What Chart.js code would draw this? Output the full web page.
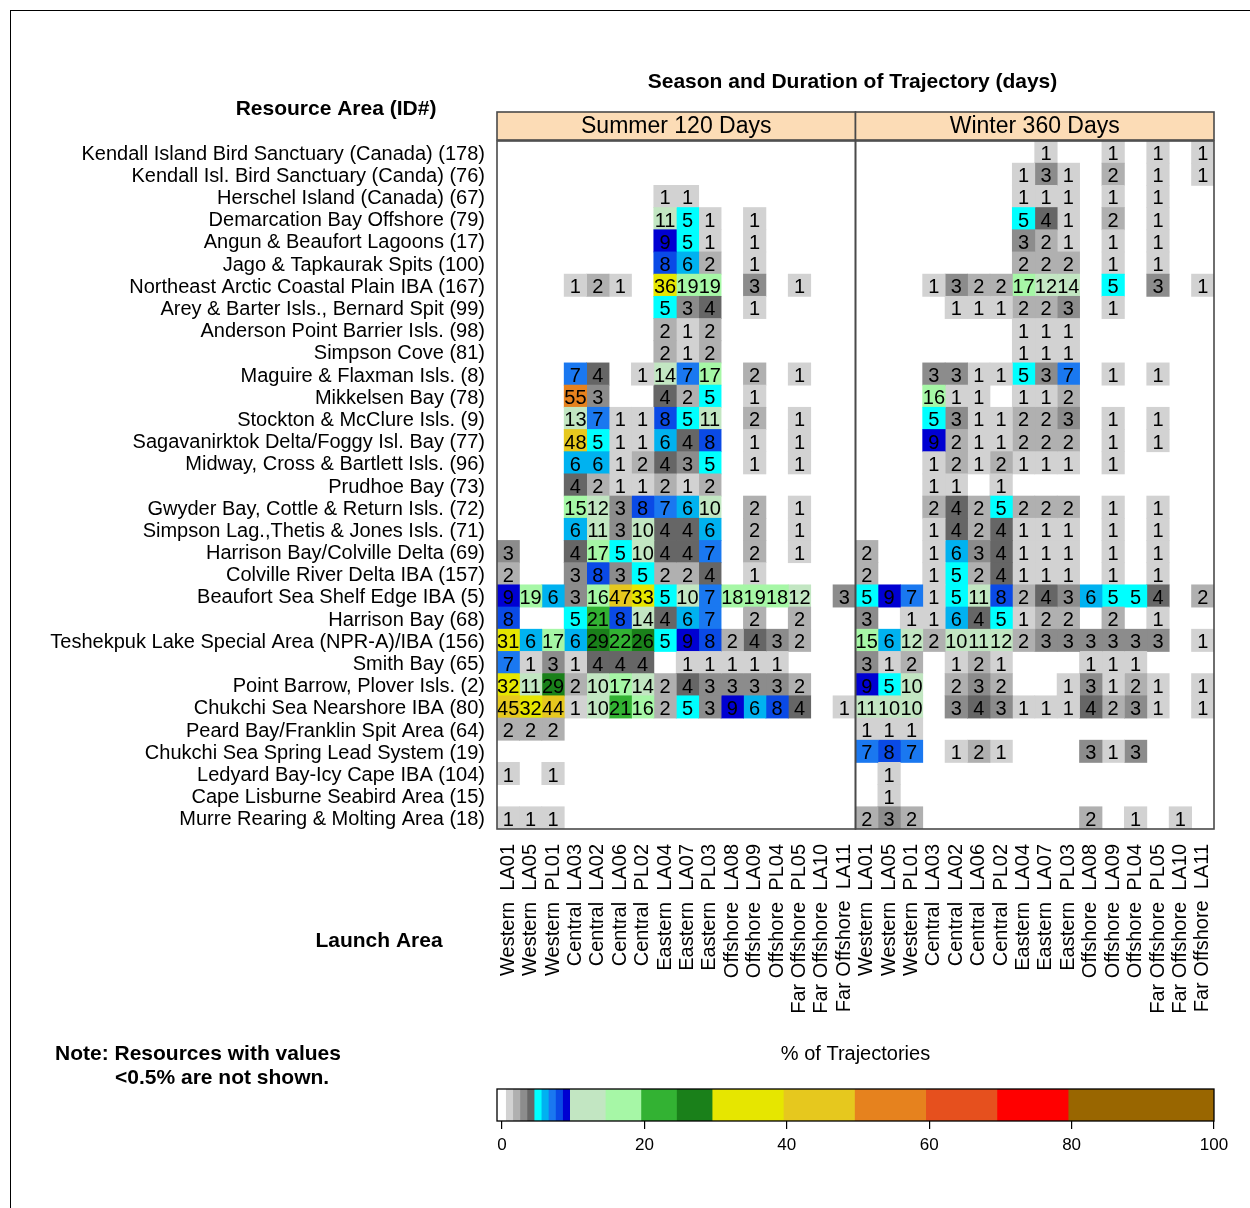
<!DOCTYPE html>
<html>
<head>
<meta charset="utf-8">
<script src="https://cdn.jsdelivr.net/npm/chart.js@4.4.1/dist/chart.umd.min.js"></script>
<style>
  html, body { margin: 0; padding: 0; background: #fff; width: 1250px; height: 1208px; overflow: hidden; }
  #frame { position: absolute; left: 10px; top: 10px; width: 1400px; height: 1400px;
           border-top: 1.5px solid #000; border-left: 1.5px solid #000; }
  #main { position: absolute; left: 0; top: 0; }
  #key  { position: absolute; left: 0; top: 1030px; }
</style>
</head>
<body>
<div id="frame"></div>
<canvas id="main" width="1250" height="1030"></canvas>
<canvas id="key" width="1250" height="178"></canvas>
<script>
const FONT = '"Liberation Sans", Arial, Helvetica, sans-serif';

// Resource areas (rows, top to bottom)
const resourceAreas = [
  'Kendall Island Bird Sanctuary (Canada) (178)',
  'Kendall Isl. Bird Sanctuary (Canda) (76)',
  'Herschel Island (Canada) (67)',
  'Demarcation Bay Offshore (79)',
  'Angun & Beaufort Lagoons (17)',
  'Jago & Tapkaurak Spits (100)',
  'Northeast Arctic Coastal Plain IBA (167)',
  'Arey & Barter Isls., Bernard Spit (99)',
  'Anderson Point Barrier Isls. (98)',
  'Simpson Cove (81)',
  'Maguire & Flaxman Isls. (8)',
  'Mikkelsen Bay (78)',
  'Stockton & McClure Isls. (9)',
  'Sagavanirktok Delta/Foggy Isl. Bay (77)',
  'Midway, Cross & Bartlett Isls. (96)',
  'Prudhoe Bay (73)',
  'Gwyder Bay, Cottle & Return Isls. (72)',
  'Simpson Lag.,Thetis & Jones Isls. (71)',
  'Harrison Bay/Colville Delta (69)',
  'Colville River Delta IBA (157)',
  'Beaufort Sea Shelf Edge IBA (5)',
  'Harrison Bay (68)',
  'Teshekpuk Lake Special Area (NPR-A)/IBA (156)',
  'Smith Bay (65)',
  'Point Barrow, Plover Isls. (2)',
  'Chukchi Sea Nearshore IBA (80)',
  'Peard Bay/Franklin Spit Area (64)',
  'Chukchi Sea Spring Lead System (19)',
  'Ledyard Bay-Icy Cape IBA (104)',
  'Cape Lisburne Seabird Area (15)',
  'Murre Rearing & Molting Area (18)'
];

// Launch areas (columns, within each season panel)
const launchRegions = ['Western', 'Western', 'Western', 'Central', 'Central', 'Central', 'Central',
  'Eastern', 'Eastern', 'Eastern', 'Offshore', 'Offshore', 'Offshore',
  'Far Offshore', 'Far Offshore', 'Far Offshore'];
const launchCodes = ['LA01', 'LA05', 'PL01', 'LA03', 'LA02', 'LA06', 'PL02', 'LA04', 'LA07', 'PL03',
  'LA08', 'LA09', 'PL04', 'PL05', 'LA10', 'LA11'];

const seasons = ['Summer 120 Days', 'Winter 360 Days'];

// % of trajectories contacting each resource area (0 = below 0.5%, not shown)
const summerPct = [
  [0,0,0,0,0,0,0,0,0,0,0,0,0,0,0,0],
  [0,0,0,0,0,0,0,0,0,0,0,0,0,0,0,0],
  [0,0,0,0,0,0,0,1,1,0,0,0,0,0,0,0],
  [0,0,0,0,0,0,0,11,5,1,0,1,0,0,0,0],
  [0,0,0,0,0,0,0,9,5,1,0,1,0,0,0,0],
  [0,0,0,0,0,0,0,8,6,2,0,1,0,0,0,0],
  [0,0,0,1,2,1,0,36,19,19,0,3,0,1,0,0],
  [0,0,0,0,0,0,0,5,3,4,0,1,0,0,0,0],
  [0,0,0,0,0,0,0,2,1,2,0,0,0,0,0,0],
  [0,0,0,0,0,0,0,2,1,2,0,0,0,0,0,0],
  [0,0,0,7,4,0,1,14,7,17,0,2,0,1,0,0],
  [0,0,0,55,3,0,0,4,2,5,0,1,0,0,0,0],
  [0,0,0,13,7,1,1,8,5,11,0,2,0,1,0,0],
  [0,0,0,48,5,1,1,6,4,8,0,1,0,1,0,0],
  [0,0,0,6,6,1,2,4,3,5,0,1,0,1,0,0],
  [0,0,0,4,2,1,1,2,1,2,0,0,0,0,0,0],
  [0,0,0,15,12,3,8,7,6,10,0,2,0,1,0,0],
  [0,0,0,6,11,3,10,4,4,6,0,2,0,1,0,0],
  [3,0,0,4,17,5,10,4,4,7,0,2,0,1,0,0],
  [2,0,0,3,8,3,5,2,2,4,0,1,0,0,0,0],
  [9,19,6,3,16,47,33,5,10,7,18,19,18,12,0,3],
  [8,0,0,5,21,8,14,4,6,7,0,2,0,2,0,0],
  [31,6,17,6,29,22,26,5,9,8,2,4,3,2,0,0],
  [7,1,3,1,4,4,4,0,1,1,1,1,1,0,0,0],
  [32,11,29,2,10,17,14,2,4,3,3,3,3,2,0,0],
  [45,32,44,1,10,21,16,2,5,3,9,6,8,4,0,1],
  [2,2,2,0,0,0,0,0,0,0,0,0,0,0,0,0],
  [0,0,0,0,0,0,0,0,0,0,0,0,0,0,0,0],
  [1,0,1,0,0,0,0,0,0,0,0,0,0,0,0,0],
  [0,0,0,0,0,0,0,0,0,0,0,0,0,0,0,0],
  [1,1,1,0,0,0,0,0,0,0,0,0,0,0,0,0]
];

const winterPct = [
  [0,0,0,0,0,0,0,0,1,0,0,1,0,1,0,1],
  [0,0,0,0,0,0,0,1,3,1,0,2,0,1,0,1],
  [0,0,0,0,0,0,0,1,1,1,0,1,0,1,0,0],
  [0,0,0,0,0,0,0,5,4,1,0,2,0,1,0,0],
  [0,0,0,0,0,0,0,3,2,1,0,1,0,1,0,0],
  [0,0,0,0,0,0,0,2,2,2,0,1,0,1,0,0],
  [0,0,0,1,3,2,2,17,12,14,0,5,0,3,0,1],
  [0,0,0,0,1,1,1,2,2,3,0,1,0,0,0,0],
  [0,0,0,0,0,0,0,1,1,1,0,0,0,0,0,0],
  [0,0,0,0,0,0,0,1,1,1,0,0,0,0,0,0],
  [0,0,0,3,3,1,1,5,3,7,0,1,0,1,0,0],
  [0,0,0,16,1,1,0,1,1,2,0,0,0,0,0,0],
  [0,0,0,5,3,1,1,2,2,3,0,1,0,1,0,0],
  [0,0,0,9,2,1,1,2,2,2,0,1,0,1,0,0],
  [0,0,0,1,2,1,2,1,1,1,0,1,0,0,0,0],
  [0,0,0,1,1,0,1,0,0,0,0,0,0,0,0,0],
  [0,0,0,2,4,2,5,2,2,2,0,1,0,1,0,0],
  [0,0,0,1,4,2,4,1,1,1,0,1,0,1,0,0],
  [2,0,0,1,6,3,4,1,1,1,0,1,0,1,0,0],
  [2,0,0,1,5,2,4,1,1,1,0,1,0,1,0,0],
  [5,9,7,1,5,11,8,2,4,3,6,5,5,4,0,2],
  [3,0,1,1,6,4,5,1,2,2,0,2,0,1,0,0],
  [15,6,12,2,10,11,12,2,3,3,3,3,3,3,0,1],
  [3,1,2,0,1,2,1,0,0,0,1,1,1,0,0,0],
  [9,5,10,0,2,3,2,0,0,1,3,1,2,1,0,1],
  [11,10,10,0,3,4,3,1,1,1,4,2,3,1,0,1],
  [1,1,1,0,0,0,0,0,0,0,0,0,0,0,0,0],
  [7,8,7,0,1,2,1,0,0,0,3,1,3,0,0,0],
  [0,1,0,0,0,0,0,0,0,0,0,0,0,0,0,0],
  [0,1,0,0,0,0,0,0,0,0,0,0,0,0,0,0],
  [2,3,2,0,0,0,0,0,0,0,2,0,1,0,1,0]
];

// Colour classes for % of trajectories
const colorBreaks = [0, 0.5, 1.5, 2.5, 3.5, 4.5, 5.5, 6.5, 7.5, 8.5, 9.5, 14.5, 19.5, 24.5, 29.5, 39.5, 49.5, 59.5, 69.5, 79.5, 100];
const colorFills = ['#ffffff', '#d2d2d2', '#b0b0b0', '#8c8c8c', '#666666', '#00ffff', '#00b2f0', '#1a78f0', '#0a4ae6', '#0000d2',
  '#c2e6c2', '#a6f7a6', '#33b233', '#1a801a', '#e6e600', '#e6c81e', '#e6821e', '#e6501e', '#ff0000', '#996600'];
const keyTicks = [0, 20, 40, 60, 80, 100];

function colorFor(v) {
  for (let i = 0; i < colorFills.length; i++) {
    if (v >= colorBreaks[i] && v < colorBreaks[i + 1]) return colorFills[i];
  }
  return colorFills[colorFills.length - 1];
}

const nCol = launchCodes.length;
const launchLabels = launchCodes.map((c, i) => launchRegions[i] + '  ' + c);
const seasonPct = [summerPct, winterPct];

// one floating-bar dataset per season/launch-area column
const cellSets = [];
seasonPct.forEach((mat, s) => {
  for (let c = 0; c < nCol; c++) {
    const x0 = s * nCol + c;
    cellSets.push({
      data: mat.map(row => row[c] > 0 ? [x0, x0 + 1] : null),
      pct: mat.map(row => row[c]),
      backgroundColor: mat.map(row => colorFor(row[c])),
      grouped: false,
      barPercentage: 1,
      categoryPercentage: 1,
      borderWidth: 0,
      borderSkipped: false,
      inflateAmount: 0.4
    });
  }
});

const gridDecor = {
  id: 'gridDecor',
  afterDatasetsDraw(chart) {
    const { ctx, chartArea: a, scales: { x } } = chart;
    ctx.save();
    // cell values
    ctx.font = '20px ' + FONT;
    ctx.textAlign = 'center';
    ctx.textBaseline = 'middle';
    ctx.fillStyle = '#000';
    chart.data.datasets.forEach((ds, di) => {
      const meta = chart.getDatasetMeta(di);
      meta.data.forEach((bar, ri) => {
        const v = ds.pct[ri];
        if (!(v > 0)) return;
        ctx.fillText(String(v), (bar.x + bar.base) / 2, bar.y + 2.5);
      });
    });
    // panels and strips
    ctx.lineWidth = 1.6;
    ctx.strokeStyle = '#4a4a4a';
    seasons.forEach((name, s) => {
      const l = x.getPixelForValue(s * nCol);
      const r = x.getPixelForValue((s + 1) * nCol);
      ctx.strokeRect(l, a.top, r - l, a.bottom - a.top);
      const st = a.top - 29;
      ctx.fillStyle = '#fcdcb6';
      ctx.fillRect(l, st, r - l, 28);
      ctx.strokeRect(l, st, r - l, 28);
      ctx.fillStyle = '#000';
      ctx.font = '23px ' + FONT;
      ctx.fillText(name, (l + r) / 2, st + 15);
    });
    // headings
    ctx.font = 'bold 21px ' + FONT;
    ctx.fillText('Season and Duration of Trajectory (days)', (a.left + a.right) / 2 - 3, 82);
    ctx.fillText('Resource Area (ID#)', a.left - 161, 109);
    ctx.fillText('Launch Area', a.left - 118, 941);
    ctx.restore();
  }
};

new Chart(document.getElementById('main'), {
  type: 'bar',
  data: { labels: resourceAreas, datasets: cellSets },
  options: {
    responsive: false,
    animation: false,
    indexAxis: 'y',
    layout: { padding: { top: 141, right: 36, left: 0, bottom: 0 } },
    plugins: { legend: { display: false }, tooltip: { enabled: false }, title: { display: false } },
    scales: {
      x: {
        type: 'linear',
        min: 0,
        max: nCol * 2,
        grid: { display: false },
        border: { display: false },
        afterBuildTicks: axis => { axis.ticks = Array.from({ length: nCol * 2 }, (_, i) => ({ value: i + 0.5 })); },
        afterFit: axis => { axis.height = 201; },
        ticks: {
          autoSkip: false,
          minRotation: 90,
          maxRotation: 90,
          padding: 7,
          color: '#000',
          font: { family: FONT, size: 20 },
          callback: (v, i) => launchLabels[i % nCol]
        }
      },
      y: {
        type: 'category',
        offset: true,
        grid: { display: false },
        border: { display: false },
        afterFit: axis => { axis.width = 497; },
        ticks: { autoSkip: false, padding: 4, labelOffset: 2, color: '#000', font: { family: FONT, size: 20 } }
      }
    }
  },
  plugins: [gridDecor]
});

// colour key
const keySets = colorFills.map((c, i) => ({
  data: [[colorBreaks[i], colorBreaks[i + 1]]],
  backgroundColor: c,
  grouped: false,
  barPercentage: 1,
  categoryPercentage: 1,
  borderWidth: 0,
  inflateAmount: 0.4
}));

const keyDecor = {
  id: 'keyDecor',
  afterDatasetsDraw(chart) {
    const { ctx, chartArea: a } = chart;
    ctx.save();
    ctx.strokeStyle = '#000';
    ctx.lineWidth = 1.3;
    ctx.strokeRect(a.left, a.top, a.right - a.left, a.bottom - a.top);
    ctx.fillStyle = '#000';
    ctx.textBaseline = 'middle';
    ctx.textAlign = 'center';
    ctx.font = '20px ' + FONT;
    ctx.fillText('% of Trajectories', (a.left + a.right) / 2, 24);
    ctx.textAlign = 'left';
    ctx.font = 'bold 21px ' + FONT;
    ctx.fillText('Note: Resources with values', 55, 24);
    ctx.fillText('<0.5% are not shown.', 115, 48);
    ctx.restore();
  }
};

new Chart(document.getElementById('key'), {
  type: 'bar',
  data: { labels: ['key'], datasets: keySets },
  options: {
    responsive: false,
    animation: false,
    indexAxis: 'y',
    layout: { padding: { top: 59, right: 36, left: 497, bottom: 0 } },
    plugins: { legend: { display: false }, tooltip: { enabled: false } },
    scales: {
      x: {
        type: 'linear',
        min: -0.7,
        max: 100,
        border: { display: false },
        grid: { drawOnChartArea: false, drawTicks: true, tickLength: 8, color: '#000', lineWidth: 1.2 },
        afterBuildTicks: axis => { axis.ticks = keyTicks.map(v => ({ value: v })); },
        afterFit: axis => { axis.height = 87; },
        ticks: { autoSkip: false, maxRotation: 0, padding: 6, color: '#000', font: { family: FONT, size: 17 } }
      },
      y: { display: false }
    }
  },
  plugins: [keyDecor]
});
</script>
</body>
</html>
